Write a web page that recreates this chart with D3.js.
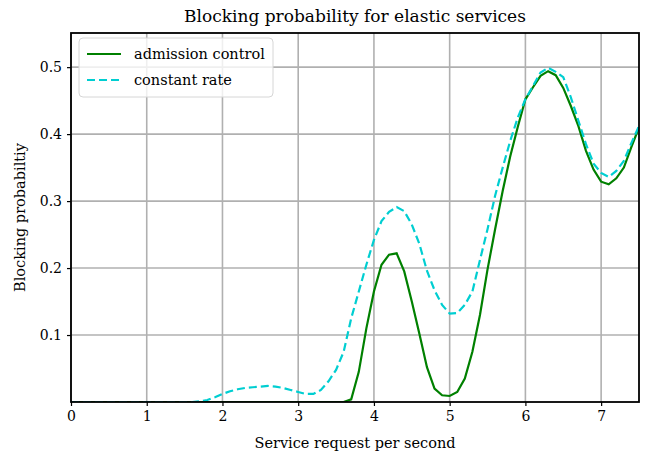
<!DOCTYPE html>
<html>
<head>
<meta charset="utf-8">
<script src="https://cdn.jsdelivr.net/npm/d3@7"></script>
<style>
  body { margin: 0; background: #fff; }
  text { font-family: 'DejaVu Serif', serif; fill: #000; }
</style>
</head>
<body>
<script>
// service request rate (per second)
const rate = [0, 0.1, 0.2, 0.3, 0.4, 0.5, 0.6, 0.7, 0.8, 0.9,
  1.0, 1.1, 1.2, 1.3, 1.4, 1.5, 1.6, 1.7, 1.8, 1.9,
  2.0, 2.1, 2.2, 2.3, 2.4, 2.5, 2.6, 2.7, 2.8, 2.9,
  3.0, 3.1, 3.2, 3.3, 3.4, 3.5, 3.6, 3.7, 3.8, 3.9,
  4.0, 4.1, 4.2, 4.3, 4.4, 4.5, 4.6, 4.7, 4.8, 4.9,
  5.0, 5.1, 5.2, 5.3, 5.4, 5.5, 5.6, 5.7, 5.8, 5.9,
  6.0, 6.1, 6.2, 6.3, 6.4, 6.5, 6.6, 6.7, 6.8, 6.9,
  7.0, 7.1, 7.2, 7.3, 7.4, 7.5]

const admission = [0, 0, 0, 0, 0, 0, 0, 0, 0, 0,
  0, 0, 0, 0, 0, 0, 0, 0, 0, 0,
  0, 0, 0, 0, 0, 0, 0, 0, 0, 0,
  0, 0, 0, 0, 0, 0, 0, 0.004, 0.045, 0.11,
  0.165, 0.205, 0.22, 0.222, 0.195, 0.15, 0.102, 0.052, 0.02, 0.01,
  0.009, 0.015, 0.035, 0.075, 0.13, 0.198, 0.258, 0.315, 0.367, 0.411,
  0.452, 0.47, 0.487, 0.494, 0.488, 0.469, 0.442, 0.412, 0.375, 0.347,
  0.329, 0.325, 0.334, 0.35, 0.381, 0.41]

const constant = [0, 0, 0, 0, 0, 0, 0, 0, 0, 0,
  0, 0, 0, 0, 0, 0, 0, 0.001, 0.003, 0.007,
  0.012, 0.016, 0.019, 0.021, 0.022, 0.023, 0.024, 0.023, 0.021, 0.018,
  0.015, 0.012, 0.012, 0.018, 0.031, 0.048, 0.075, 0.125, 0.165, 0.205,
  0.242, 0.27, 0.284, 0.291, 0.285, 0.265, 0.236, 0.196, 0.167, 0.145,
  0.132, 0.133, 0.145, 0.165, 0.212, 0.258, 0.308, 0.35, 0.39, 0.425,
  0.452, 0.472, 0.492, 0.499, 0.493, 0.485, 0.455, 0.42, 0.385, 0.356,
  0.342, 0.336, 0.345, 0.36, 0.387, 0.412]

const xTicks = [0, 1, 2, 3, 4, 5, 6, 7]
const yTicks = [0.1, 0.2, 0.3, 0.4, 0.5]

const width = 646
const height = 457
const margin = {left: 71, right: 7, top: 33, bottom: 55}

const x = d3.scaleLinear().domain([0, 7.5]).range([margin.left, width - margin.right])
const y = d3.scaleLinear().domain([0, 0.551]).range([height - margin.bottom, margin.top])

const svg = d3.select('body').append('svg')
  .attr('width', width)
  .attr('height', height)

svg.append('clipPath').attr('id', 'clip')
  .append('rect')
  .attr('x', margin.left).attr('y', margin.top)
  .attr('width', width - margin.left - margin.right)
  .attr('height', height - margin.top - margin.bottom)

// grid
svg.append('g').selectAll('line.gx')
  .data(xTicks).enter().append('line')
  .attr('x1', d => x(d)).attr('x2', d => x(d))
  .attr('y1', y.range()[0]).attr('y2', y.range()[1])
  .attr('stroke', '#b0b0b0').attr('stroke-width', 1.6)

svg.append('g').selectAll('line.gy')
  .data(yTicks).enter().append('line')
  .attr('x1', x.range()[0]).attr('x2', x.range()[1])
  .attr('y1', d => y(d)).attr('y2', d => y(d))
  .attr('stroke', '#b0b0b0').attr('stroke-width', 1.6)

const line = (vals) => d3.line()
  .x((d, i) => x(rate[i]))
  .y(d => y(d))(vals)

svg.append('path')
  .attr('d', line(admission))
  .attr('clip-path', 'url(#clip)')
  .attr('fill', 'none')
  .attr('stroke', 'green')
  .attr('stroke-width', 2.2)

svg.append('path')
  .attr('d', line(constant))
  .attr('clip-path', 'url(#clip)')
  .attr('fill', 'none')
  .attr('stroke', 'darkturquoise')
  .attr('stroke-width', 2.2)
  .attr('stroke-dasharray', '8,4')

// axes
const xAxis = svg.append('g')
  .attr('transform', 'translate(0,' + (height - margin.bottom) + ')')
  .call(d3.axisBottom(x).tickValues(xTicks).tickFormat(d3.format('d')).tickSizeOuter(0).tickSize(4).tickPadding(5))
const yAxis = svg.append('g')
  .attr('transform', 'translate(' + margin.left + ',0)')
  .call(d3.axisLeft(y).tickValues(yTicks).tickFormat(d3.format('.1f')).tickSizeOuter(0).tickSize(4).tickPadding(5))

for (const ax of [xAxis, yAxis]) {
  ax.select('.domain').remove()
  ax.attr('font-family', null)
  ax.selectAll('line').attr('stroke', '#000').attr('stroke-width', 1.2)
  ax.selectAll('text').attr('font-size', '14px')
}

// frame
svg.append('rect')
  .attr('x', margin.left).attr('y', margin.top)
  .attr('width', width - margin.left - margin.right)
  .attr('height', height - margin.top - margin.bottom)
  .attr('fill', 'none').attr('stroke', '#000').attr('stroke-width', 1.8)

// legend
const lg = svg.append('g').attr('transform', 'translate(79,38)')
lg.append('rect')
  .attr('width', 194).attr('height', 59).attr('rx', 4)
  .attr('fill', 'rgba(255,255,255,0.8)').attr('stroke', '#d6d6d6')
const entries = [['admission control', 'green', null], ['constant rate', 'darkturquoise', '8,4']]
entries.forEach((e, i) => {
  const yy = 16 + i * 26
  lg.append('line')
    .attr('x1', 8).attr('x2', 42).attr('y1', yy).attr('y2', yy)
    .attr('stroke', e[1]).attr('stroke-width', 2.2)
    .attr('stroke-dasharray', e[2])
  lg.append('text')
    .attr('x', 55).attr('y', yy + 5)
    .attr('font-size', '14.5px')
    .text(e[0])
})

svg.append('text')
  .attr('x', (margin.left + width - margin.right) / 2)
  .attr('y', 22)
  .attr('text-anchor', 'middle')
  .attr('font-size', '17px')
  .text('Blocking probability for elastic services')

svg.append('text')
  .attr('x', (margin.left + width - margin.right) / 2)
  .attr('y', 448)
  .attr('text-anchor', 'middle')
  .attr('font-size', '14.5px')
  .text('Service request per second')

svg.append('text')
  .attr('transform', 'translate(25,' + ((margin.top + height - margin.bottom) / 2) + ') rotate(-90)')
  .attr('text-anchor', 'middle')
  .attr('font-size', '14.5px')
  .text('Blocking probabiltiy')
</script>
</body>
</html>
